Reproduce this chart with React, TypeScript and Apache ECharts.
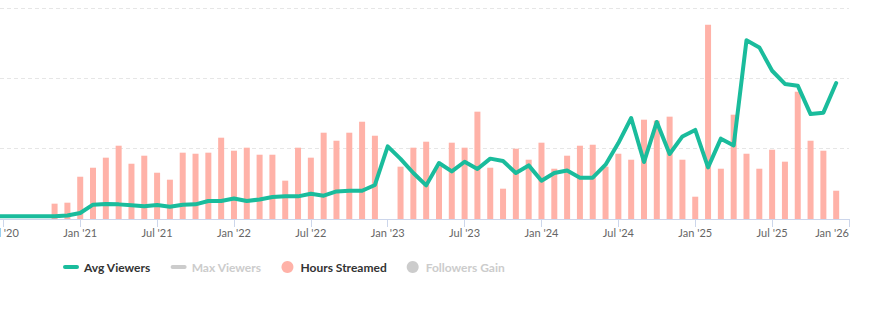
import React, { useEffect, useRef } from 'react';
import * as echarts from 'echarts';

const months = [
  '2020-06', '2020-07', '2020-08', '2020-09', '2020-10', '2020-11', '2020-12',
  '2021-01', '2021-02', '2021-03', '2021-04', '2021-05', '2021-06', '2021-07', '2021-08', '2021-09', '2021-10', '2021-11', '2021-12',
  '2022-01', '2022-02', '2022-03', '2022-04', '2022-05', '2022-06', '2022-07', '2022-08', '2022-09', '2022-10', '2022-11', '2022-12',
  '2023-01', '2023-02', '2023-03', '2023-04', '2023-05', '2023-06', '2023-07', '2023-08', '2023-09', '2023-10', '2023-11', '2023-12',
  '2024-01', '2024-02', '2024-03', '2024-04', '2024-05', '2024-06', '2024-07', '2024-08', '2024-09', '2024-10', '2024-11', '2024-12',
  '2025-01', '2025-02', '2025-03', '2025-04', '2025-05', '2025-06', '2025-07', '2025-08', '2025-09', '2025-10', '2025-11', '2025-12',
];

const avgViewers = [
  2, 2, 2, 2, 2, 2, 2.5,
  4.3, 10.2, 10.7, 10.4, 9.7, 9.0, 10, 8.7, 10.2, 10.4, 12.8, 12.8,
  14.6, 12.8, 13.9, 15.6, 16.1, 16.1, 18, 16.6, 19.6, 20.1, 20.1, 24.2,
  51.6, 42.7, 32.7, 23.9, 39.8, 33.8, 40.7, 35.5, 42.9, 41.2, 32.7, 38.1,
  27.2, 32.7, 34.5, 29.4, 29.4, 38.6, 54, 71.8, 40.5, 69, 46.2, 58.7,
  63.3, 36.7, 57.1, 52.3, 127, 122, 105.4, 96, 94.8, 74.6, 75.6, 96.7,
];

const hoursStreamed = [
  0, 0, 0, 0, 0, 21.8, 23.2,
  60.1, 72.9, 87.2, 104.2, 78.6, 90, 65.8, 55.9, 94.3, 92.8, 94.3, 115.6,
  97.1, 101.4, 91.4, 91.4, 54.5, 101.4, 87.2, 122.7, 111.3, 122.7, 138.3, 118.4,
  0, 74.4, 101.4, 109.9, 75, 108.5, 101.4, 152.6, 72.9, 43.1, 100, 84.3,
  108.5, 71.5, 90, 104.2, 105.6, 74.4, 92.8, 84.3, 141.2, 139.8, 145.5, 84.3,
  31.7, 276.3, 71.5, 148.3, 92.8, 71.5, 98.5, 81.5, 181, 111.3, 97.1, 40.2,
];

const maxViewers: number[] = [];
const followersGain: number[] = [];

const tickLabels = [
  "Jul '20", "Jan '21", "Jul '21", "Jan '22", "Jul '22", "Jan '23",
  "Jul '23", "Jan '24", "Jul '24", "Jan '25", "Jul '25", "Jan '26",
];

const MON = ['Jan', 'Feb', 'Mar', 'Apr', 'May', 'Jun', 'Jul', 'Aug', 'Sep', 'Oct', 'Nov', 'Dec'];

function monthIndex(s: string): number {
  const [y, m] = s.split('-').map(Number);
  return (y - 2020) * 12 + (m - 1);
}
function labelIndex(l: string): number {
  const [mon, yy] = l.split(" '");
  return (Number(yy) - 20) * 12 + MON.indexOf(mon);
}

export default function App() {
  const ref = useRef<HTMLDivElement>(null);

  useEffect(() => {
    if (!ref.current) return;
    const chart = echarts.init(ref.current, undefined, { renderer: 'svg' });

    const tickValues = tickLabels.map(labelIndex);
    const labelMap: Record<number, string> = {};
    tickLabels.forEach((l) => { labelMap[labelIndex(l)] = l; });

    const xs = months.map(monthIndex);
    const avgData = xs.map((x, i) => [x, avgViewers[i]]);
    const hoursData = xs.map((x, i) => [x, hoursStreamed[i]]);

    chart.setOption({
      animation: false,
      textStyle: { fontFamily: 'Lato' },
      grid: { left: 0, right: 34, top: 8, bottom: 104, containLabel: false, outerBoundsMode: 'none' },
      legend: {
        left: 63,
        top: 261,
        padding: 0,
        itemWidth: 16,
        itemHeight: 12,
        itemGap: 20,
        inactiveColor: '#cccccc',
        textStyle: { fontFamily: 'Lato', fontSize: 12, fontWeight: 'bold', color: '#333333' },
        selected: { 'Max Viewers': false, 'Followers Gain': false },
        data: [
          { name: 'Avg Viewers', icon: 'path://M2,0H14A2,2,0,0,1,14,4H2A2,2,0,0,1,2,0Z' },
          { name: 'Max Viewers', icon: 'path://M2,0H14A2,2,0,0,1,14,4H2A2,2,0,0,1,2,0Z' },
          { name: 'Hours Streamed', icon: 'circle' },
          { name: 'Followers Gain', icon: 'circle' },
        ],
      },
      xAxis: {
        type: 'value',
        min: 5.74,
        max: 72,
        axisLine: { show: true, lineStyle: { color: '#ccd6eb', width: 1 } },
        axisTick: { show: true, length: 8, lineStyle: { color: '#ccd6eb' }, customValues: tickValues },
        axisLabel: {
          customValues: tickValues,
          formatter: (v: number) => labelMap[Math.round(v)] ?? '',
          color: '#666666',
          fontSize: 11,
          margin: 8,
          fontFamily: 'Lato',
          alignMaxLabel: 'right',
        },
        splitLine: { show: false },
      },
      yAxis: [
        {
          type: 'value',
          min: 0,
          max: 150,
          interval: 50,
          axisLabel: { show: false },
          axisLine: { show: false },
          axisTick: { show: false },
          splitLine: { show: true, lineStyle: { color: '#e6e6e6', type: [4, 3] } },
        },
        {
          type: 'value',
          min: 0,
          max: 300,
          interval: 100,
          axisLabel: { show: false },
          axisLine: { show: false },
          axisTick: { show: false },
          splitLine: { show: false },
        },
      ],
      series: [
        {
          name: 'Hours Streamed',
          type: 'bar',
          yAxisIndex: 1,
          barWidth: 6,
          itemStyle: { color: '#ffb2a8' },
          data: hoursData,
        },
        {
          name: 'Followers Gain',
          type: 'bar',
          yAxisIndex: 1,
          barWidth: 6,
          itemStyle: { color: '#999999' },
          data: followersGain,
        },
        {
          name: 'Max Viewers',
          type: 'line',
          yAxisIndex: 0,
          symbol: 'none',
          itemStyle: { color: '#999999' },
          lineStyle: { width: 4, color: '#999999' },
          data: maxViewers,
        },
        {
          name: 'Avg Viewers',
          type: 'line',
          yAxisIndex: 0,
          symbol: 'none',
          z: 3,
          itemStyle: { color: '#1abc9c' },
          lineStyle: { width: 4, color: '#1abc9c', cap: 'round', join: 'round' },
          data: avgData,
        },
      ],
    });

    return () => chart.dispose();
  }, []);

  return (
    <div
      ref={ref}
      style={{ position: 'absolute', left: 0, top: 0, width: 883, height: 323, background: '#ffffff' }}
    />
  );
}
